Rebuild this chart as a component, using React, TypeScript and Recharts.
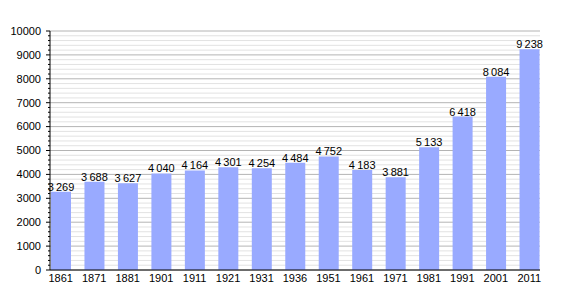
import React from 'react';
import { BarChart, Bar, XAxis, YAxis, CartesianGrid, LabelList } from 'recharts';

const years = ['1861', '1871', '1881', '1901', '1911', '1921', '1931', '1936', '1951', '1961', '1971', '1981', '1991', '2001', '2011'];
const population = [3269, 3688, 3627, 4040, 4164, 4301, 4254, 4484, 4752, 4183, 3881, 5133, 6418, 8084, 9238];
const allTicks: number[] = [];
for (let v = 0; v <= 10000; v += 200) allTicks.push(v);

const data = years.map((y, i) => ({ year: y, pop: population[i] }));

const FONT = '"Liberation Sans", Arial, sans-serif';

const fmt = (v: any) => {
  const s = String(v);
  if (s.length <= 3) return s;
  return s.slice(0, s.length - 3) + '\u202F' + s.slice(s.length - 3);
};

const YTick = (props: any) => {
  const { x, y, payload } = props;
  const v = payload.value;
  const major = v % 1000 === 0;
  return (
    <g>
      <line x1={x - (major ? 4 : 2)} x2={x} y1={y} y2={y} stroke="#000" strokeWidth={1} />
      {major && (
        <text x={x - 9} y={y} dy="0.35em" textAnchor="end" fontSize={11} fontFamily={FONT} fill="#000">
          {v}
        </text>
      )}
    </g>
  );
};

const GridLine = (p: any) => {
  const { x1, x2, y1, y2, index } = p;
  const v = allTicks[allTicks.length - 1 - index] ?? 0;
  const idx = typeof index === 'number' ? index : 0;
  const major = idx % 5 === 0;
  return (
    <line
      key={p.key}
      x1={x1}
      x2={x2}
      y1={y1}
      y2={y2}
      stroke={major ? '#b4b4b4' : '#e2e2e2'}
      strokeWidth={1}
      fill="none"
      data-v={v}
    />
  );
};

export default function App() {
  return (
    <BarChart
      width={562}
      height={292}
      data={data}
      margin={{ top: 23, right: 30, bottom: 10, left: 0 }}
      style={{ fontFamily: FONT }}
    >
      <CartesianGrid vertical={false} horizontal={(p: any) => <GridLine {...p} />} />
      <XAxis
        dataKey="year"
        padding={{ left: -6, right: -6 }}
        tickLine={false}
        tickSize={0}
        tickMargin={4}
        interval={0}
        axisLine={{ stroke: '#000' }}
        height={20}
        tick={{ fontSize: 11, fill: '#000', fontFamily: FONT }}
      />
      <YAxis
        type="number"
        domain={[0, 10000]}
        ticks={allTicks}
        interval={0}
        width={42}
        tickLine={false}
        tickSize={0}
        tickMargin={0}
        axisLine={{ stroke: '#000' }}
        tick={<YTick />}
      />
      <Bar dataKey="pop" fill="#99aaff" barSize={20} isAnimationActive={false}>
        <LabelList
          dataKey="pop"
          position="top"
          offset={1}
          formatter={fmt}
          style={{ fontSize: 11, fill: '#000', fontFamily: FONT }}
        />
      </Bar>
    </BarChart>
  );
}
